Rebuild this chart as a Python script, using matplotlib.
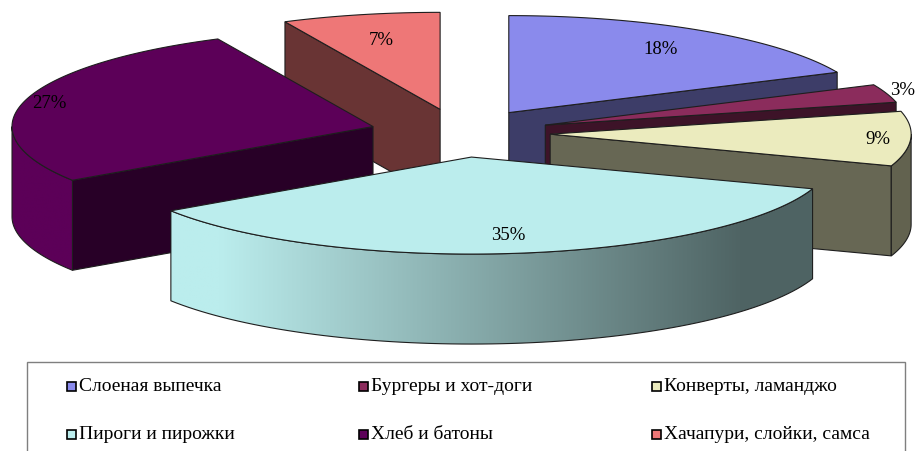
import numpy as np
import matplotlib.pyplot as plt
from matplotlib.patches import Polygon, Rectangle
from matplotlib.colors import to_rgb

# slice data, clockwise from 12 o'clock
categories = ['Слоеная выпечка', 'Бургеры и хот-доги', 'Конверты, ламанджо',
              'Пироги и пирожки', 'Хлеб и батоны', 'Хачапури, слойки, самса']
shares = [18, 3, 9, 35, 27, 7]
top_colors = ['#8A8AEC', '#8B2C5C', '#EBEBBE', '#BBEDED', '#5C0058', '#EE7777']
label_r = [0.78, 1.12, 0.91, 0.8, 0.93, 0.74]

# pie geometry in pixel units
CX, CY = 460, 134
RX, RY = 361, 97
DEPTH = 90
EXPLODE = 0.25
CUT_SHADE = 0.44
EDGE = '#1e1e1e'
FONT = 'Liberation Serif'
W, H = 917, 452


def shade(color, f):
    return tuple(np.clip(np.array(to_rgb(color)) * f, 0, 1))


def side_factor(s):
    # lighter on the left, darker on the right
    return np.clip(1 - 0.58 * (s + 0.7) / 1.45, 0.42, 1.0)


def rim(ax_, ay_, t, r=1.0):
    t = np.radians(t)
    return ax_ + r * RX * np.sin(t), ay_ - r * RY * np.cos(t)


fig = plt.figure(figsize=(W / 100, H / 100), dpi=100)
ax = fig.add_axes([0, 0, 1, 1])
ax.set_xlim(0, W)
ax.set_ylim(H, 0)
ax.axis('off')

total = float(sum(shares))
bounds = np.concatenate([[0], np.cumsum(shares)]) / total * 360
mids = (bounds[:-1] + bounds[1:]) / 2

# back slices first
order = sorted(range(len(shares)), key=lambda i: -np.cos(np.radians(mids[i])))
z = 1
for i in order:
    t1, t2, m = bounds[i], bounds[i + 1], mids[i]
    apx, apy = rim(CX, CY, m, EXPLODE)
    col = top_colors[i]
    dark = shade(col, CUT_SHADE)

    # radial cut faces that face the viewer
    for t, normal in ((t1, t1 - 90), (t2, t2 + 90)):
        if np.cos(np.radians(normal)) < -1e-6:
            ox, oy = rim(apx, apy, t)
            face = [(apx, apy), (ox, oy), (ox, oy + DEPTH), (apx, apy + DEPTH)]
            ax.add_patch(Polygon(face, closed=True, facecolor=dark, edgecolor=EDGE,
                                 lw=0.8, zorder=z))
            z += 1

    # outer curved side, shaded across x
    a, b = max(t1, 90), min(t2, 270)
    if a < b:
        ts = np.linspace(a, b, 80)
        xs, ys = rim(apx, apy, ts)
        pts = list(zip(xs, ys)) + list(zip(xs[::-1], ys[::-1] + DEPTH))
        outline = Polygon(pts, closed=True, facecolor='none', edgecolor=EDGE,
                          lw=0.8, zorder=z + 1)
        ax.add_patch(outline)
        x0, x1 = xs.min(), xs.max()
        gx = np.linspace(x0, x1, 300)
        grad = np.array([shade(col, side_factor((x - apx) / RX)) for x in gx])[None, :, :]
        im = ax.imshow(grad, extent=(x0, x1, ys.max() + DEPTH + 2, ys.min() - 2),
                       aspect='auto', interpolation='bilinear', zorder=z)
        im.set_clip_path(outline)
        z += 2

    # top face
    ts = np.linspace(t1, t2, max(int((t2 - t1) * 2), 4))
    xs, ys = rim(apx, apy, ts)
    top = [(apx, apy)] + list(zip(xs, ys))
    ax.add_patch(Polygon(top, closed=True, facecolor=col, edgecolor=EDGE,
                         lw=0.8, zorder=z))
    z += 1

# value labels, kept inside the canvas
for i, v in enumerate(shares):
    apx, apy = rim(CX, CY, mids[i], EXPLODE)
    lx, ly = rim(apx, apy, mids[i], label_r[i])
    ax.text(min(lx, W - 2), ly, f'{v}%', ha='right' if lx > W - 20 else 'center',
            va='center', fontsize=13.5, family=FONT, color='black', zorder=100)

# legend box
ax.add_patch(Rectangle((27, 363), 878, 95, facecolor='white', edgecolor='#7f7f7f',
                       lw=1.0, zorder=101))
col_x = [67, 359, 652]
row_y = [387, 435]
for i, name in enumerate(categories):
    x = col_x[i % 3]
    y = row_y[i // 3]
    ax.add_patch(Rectangle((x, y - 4.5), 9, 9, facecolor=top_colors[i],
                           edgecolor='black', lw=1.2, zorder=102))
    ax.text(x + 12, y, name, ha='left', va='center', fontsize=14,
            family=FONT, color='black', zorder=102)

fig.savefig('out.png', dpi=100)
